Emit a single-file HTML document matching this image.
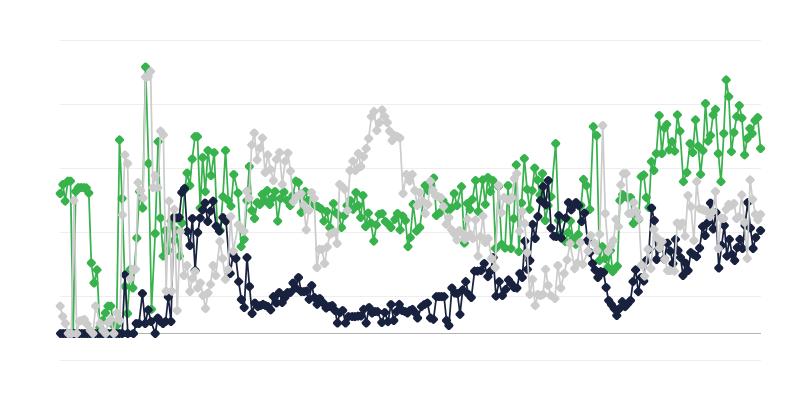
<!DOCTYPE html>
<html><head><meta charset="utf-8"><title>chart</title><style>html,body{margin:0;padding:0;background:#fff;font-family:"Liberation Sans",sans-serif}body{width:800px;height:400px;overflow:hidden}</style></head><body><svg width="800" height="400" viewBox="0 0 800 400" style="display:block"><rect x="60" y="40" width="701" height="1" fill="#eeeeee"/><rect x="60" y="104" width="701" height="1" fill="#eeeeee"/><rect x="60" y="168" width="701" height="1" fill="#eeeeee"/><rect x="60" y="232" width="701" height="1" fill="#eeeeee"/><rect x="60" y="296" width="701" height="1" fill="#eeeeee"/><rect x="60" y="360" width="701" height="1" fill="#eeeeee"/><rect x="60" y="333" width="701" height="1" fill="#b4b4b4"/><g><polyline points="60.2,193.5 62.9,184.5 65.2,201.1 67.9,181.1 70.5,181.1 73.2,333.5 75.7,191.5 78.3,187.7 81.0,187.7 83.7,187.7 86.3,187.8 88.8,193.0 91.3,263.0 94.0,283.0 97.0,269.9 99.8,327.5 102.7,320.5 105.4,313.0 108.0,306.1 110.8,306.1 113.7,325.5 116.6,325.5 119.5,139.9 122.1,198.5 125.0,286.5 127.5,313.5 130.3,269.2 132.8,288.0 136.8,238.0 139.6,191.5 142.6,208.0 145.6,67.0 148.6,163.5 151.5,309.2 155.2,233.5 158.1,141.8 160.5,218.0 163.2,256.1 165.4,230.5 168.2,250.5 171.1,221.1 173.9,240.5 176.6,230.5 179.5,256.1 182.0,223.0 184.7,189.5 187.1,173.0 189.8,185.5 192.2,159.0 195.0,136.8 197.5,136.8 200.2,208.0 202.7,157.5 205.3,191.8 208.0,150.5 211.0,175.5 214.2,152.8 217.3,226.5 220.2,230.5 222.9,196.8 225.5,150.5 228.3,200.5 231.0,206.1 233.8,174.5 238.0,193.0 241.1,246.8 244.2,239.2 246.9,200.5 249.3,166.5 251.8,210.5 254.5,218.5 257.2,202.5 259.8,204.5 262.1,194.2 264.5,200.5 267.2,190.5 269.8,204.5 272.5,198.0 275.0,191.5 277.7,221.1 280.6,198.5 284.0,192.0 287.1,200.5 290.2,205.5 292.9,195.5 295.8,181.1 298.4,182.5 301.2,212.5 305.2,191.5 308.0,200.5 310.8,200.5 315.2,205.5 317.8,206.5 320.8,208.5 323.9,221.1 326.9,211.5 329.8,227.5 333.4,203.5 336.2,213.0 338.8,215.5 341.5,227.5 344.2,215.5 347.0,205.5 350.2,200.5 353.1,209.2 355.9,192.5 358.2,205.5 360.7,217.5 363.0,195.5 365.6,226.5 368.3,213.0 370.9,223.0 373.8,241.1 376.4,224.9 379.1,214.2 382.2,213.5 385.4,221.5 388.6,224.5 391.0,227.5 394.9,219.2 397.5,213.5 400.1,229.9 402.8,216.1 405.4,220.5 408.0,246.8 410.3,237.5 413.1,204.2 416.5,231.1 419.8,227.5 425.2,185.5 428.0,190.5 430.9,185.5 433.7,178.0 436.4,215.5 440.2,212.5 443.0,200.5 446.0,205.5 448.8,210.5 451.3,208.0 454.2,193.5 457.0,205.5 461.5,186.8 464.4,243.0 467.3,203.5 470.0,209.2 472.4,199.2 475.6,180.5 478.4,211.5 482.7,179.9 485.3,204.2 487.9,177.5 490.3,191.8 492.9,180.5 495.5,248.5 498.5,186.5 501.7,244.2 505.0,248.0 508.1,185.5 511.0,248.5 513.8,218.5 516.3,164.9 518.9,251.8 521.6,203.0 524.3,158.5 527.1,189.2 529.7,209.2 532.2,190.5 534.7,168.0 537.4,179.9 540.0,194.9 542.5,173.5 545.2,220.5 548.1,205.5 551.0,196.8 555.7,143.5 558.6,220.5 561.5,233.5 565.4,241.8 568.0,232.5 570.5,221.1 573.0,238.5 575.8,244.2 578.4,234.2 581.0,205.5 583.5,179.2 586.3,185.5 589.9,209.2 593.3,126.8 596.6,135.5 599.5,260.5 602.3,246.8 605.2,258.5 607.8,267.5 610.4,250.5 612.7,271.8 615.1,268.5 617.4,266.1 619.9,200.5 622.6,194.5 625.3,196.5 628.0,198.0 630.6,197.5 633.3,223.5 636.0,212.5 638.6,219.5 641.2,176.8 643.8,174.9 646.3,197.5 648.9,207.5 651.4,161.8 653.9,170.5 656.3,153.5 659.2,115.5 661.9,153.5 664.5,128.0 666.8,124.2 669.2,149.9 672.0,141.8 674.7,151.1 677.4,114.9 680.0,131.1 683.4,181.8 686.8,172.5 690.0,143.5 692.7,152.5 695.5,119.9 698.2,146.1 700.6,174.2 703.0,150.5 705.5,103.5 708.1,141.1 710.5,135.5 713.1,114.9 715.5,109.2 718.3,153.5 721.0,181.8 723.8,133.5 726.2,79.9 728.8,96.8 731.4,151.8 734.0,132.5 736.7,116.8 739.3,105.5 741.9,118.0 744.6,154.9 747.2,138.5 749.9,128.5 752.2,133.5 755.0,120.5 757.7,117.5 760.6,148.5" fill="none" stroke="#37b24d" stroke-width="1.75" stroke-linejoin="round" stroke-linecap="round"/><path d="M60.2 191.0l2.5 2.5l-2.5 2.5l-2.5 -2.5zM62.9 182.0l2.5 2.5l-2.5 2.5l-2.5 -2.5zM65.2 198.6l2.5 2.5l-2.5 2.5l-2.5 -2.5zM67.9 178.6l2.5 2.5l-2.5 2.5l-2.5 -2.5zM70.5 178.6l2.5 2.5l-2.5 2.5l-2.5 -2.5zM73.2 331.0l2.5 2.5l-2.5 2.5l-2.5 -2.5zM75.7 189.0l2.5 2.5l-2.5 2.5l-2.5 -2.5zM78.3 185.2l2.5 2.5l-2.5 2.5l-2.5 -2.5zM81.0 185.2l2.5 2.5l-2.5 2.5l-2.5 -2.5zM83.7 185.2l2.5 2.5l-2.5 2.5l-2.5 -2.5zM86.3 185.3l2.5 2.5l-2.5 2.5l-2.5 -2.5zM88.8 190.5l2.5 2.5l-2.5 2.5l-2.5 -2.5zM91.3 260.5l2.5 2.5l-2.5 2.5l-2.5 -2.5zM94.0 280.5l2.5 2.5l-2.5 2.5l-2.5 -2.5zM97.0 267.4l2.5 2.5l-2.5 2.5l-2.5 -2.5zM99.8 325.0l2.5 2.5l-2.5 2.5l-2.5 -2.5zM102.7 318.0l2.5 2.5l-2.5 2.5l-2.5 -2.5zM105.4 310.5l2.5 2.5l-2.5 2.5l-2.5 -2.5zM108.0 303.6l2.5 2.5l-2.5 2.5l-2.5 -2.5zM110.8 303.6l2.5 2.5l-2.5 2.5l-2.5 -2.5zM113.7 323.0l2.5 2.5l-2.5 2.5l-2.5 -2.5zM116.6 323.0l2.5 2.5l-2.5 2.5l-2.5 -2.5zM119.5 137.4l2.5 2.5l-2.5 2.5l-2.5 -2.5zM122.1 196.0l2.5 2.5l-2.5 2.5l-2.5 -2.5zM125.0 284.0l2.5 2.5l-2.5 2.5l-2.5 -2.5zM127.5 311.0l2.5 2.5l-2.5 2.5l-2.5 -2.5zM130.3 266.8l2.5 2.5l-2.5 2.5l-2.5 -2.5zM132.8 285.5l2.5 2.5l-2.5 2.5l-2.5 -2.5zM136.8 235.5l2.5 2.5l-2.5 2.5l-2.5 -2.5zM139.6 189.0l2.5 2.5l-2.5 2.5l-2.5 -2.5zM142.6 205.5l2.5 2.5l-2.5 2.5l-2.5 -2.5zM145.6 64.5l2.5 2.5l-2.5 2.5l-2.5 -2.5zM148.6 161.0l2.5 2.5l-2.5 2.5l-2.5 -2.5zM151.5 306.8l2.5 2.5l-2.5 2.5l-2.5 -2.5zM155.2 231.0l2.5 2.5l-2.5 2.5l-2.5 -2.5zM158.1 139.2l2.5 2.5l-2.5 2.5l-2.5 -2.5zM160.5 215.5l2.5 2.5l-2.5 2.5l-2.5 -2.5zM163.2 253.6l2.5 2.5l-2.5 2.5l-2.5 -2.5zM165.4 228.0l2.5 2.5l-2.5 2.5l-2.5 -2.5zM168.2 248.0l2.5 2.5l-2.5 2.5l-2.5 -2.5zM171.1 218.6l2.5 2.5l-2.5 2.5l-2.5 -2.5zM173.9 238.0l2.5 2.5l-2.5 2.5l-2.5 -2.5zM176.6 228.0l2.5 2.5l-2.5 2.5l-2.5 -2.5zM179.5 253.6l2.5 2.5l-2.5 2.5l-2.5 -2.5zM182.0 220.5l2.5 2.5l-2.5 2.5l-2.5 -2.5zM184.7 187.0l2.5 2.5l-2.5 2.5l-2.5 -2.5zM187.1 170.5l2.5 2.5l-2.5 2.5l-2.5 -2.5zM189.8 183.0l2.5 2.5l-2.5 2.5l-2.5 -2.5zM192.2 156.5l2.5 2.5l-2.5 2.5l-2.5 -2.5zM195.0 134.2l2.5 2.5l-2.5 2.5l-2.5 -2.5zM197.5 134.2l2.5 2.5l-2.5 2.5l-2.5 -2.5zM200.2 205.5l2.5 2.5l-2.5 2.5l-2.5 -2.5zM202.7 155.0l2.5 2.5l-2.5 2.5l-2.5 -2.5zM205.3 189.2l2.5 2.5l-2.5 2.5l-2.5 -2.5zM208.0 148.0l2.5 2.5l-2.5 2.5l-2.5 -2.5zM211.0 173.0l2.5 2.5l-2.5 2.5l-2.5 -2.5zM214.2 150.2l2.5 2.5l-2.5 2.5l-2.5 -2.5zM217.3 224.0l2.5 2.5l-2.5 2.5l-2.5 -2.5zM220.2 228.0l2.5 2.5l-2.5 2.5l-2.5 -2.5zM222.9 194.2l2.5 2.5l-2.5 2.5l-2.5 -2.5zM225.5 148.0l2.5 2.5l-2.5 2.5l-2.5 -2.5zM228.3 198.0l2.5 2.5l-2.5 2.5l-2.5 -2.5zM231.0 203.6l2.5 2.5l-2.5 2.5l-2.5 -2.5zM233.8 172.0l2.5 2.5l-2.5 2.5l-2.5 -2.5zM238.0 190.5l2.5 2.5l-2.5 2.5l-2.5 -2.5zM241.1 244.2l2.5 2.5l-2.5 2.5l-2.5 -2.5zM244.2 236.8l2.5 2.5l-2.5 2.5l-2.5 -2.5zM246.9 198.0l2.5 2.5l-2.5 2.5l-2.5 -2.5zM249.3 164.0l2.5 2.5l-2.5 2.5l-2.5 -2.5zM251.8 208.0l2.5 2.5l-2.5 2.5l-2.5 -2.5zM254.5 216.0l2.5 2.5l-2.5 2.5l-2.5 -2.5zM257.2 200.0l2.5 2.5l-2.5 2.5l-2.5 -2.5zM259.8 202.0l2.5 2.5l-2.5 2.5l-2.5 -2.5zM262.1 191.8l2.5 2.5l-2.5 2.5l-2.5 -2.5zM264.5 198.0l2.5 2.5l-2.5 2.5l-2.5 -2.5zM267.2 188.0l2.5 2.5l-2.5 2.5l-2.5 -2.5zM269.8 202.0l2.5 2.5l-2.5 2.5l-2.5 -2.5zM272.5 195.5l2.5 2.5l-2.5 2.5l-2.5 -2.5zM275.0 189.0l2.5 2.5l-2.5 2.5l-2.5 -2.5zM277.7 218.6l2.5 2.5l-2.5 2.5l-2.5 -2.5zM280.6 196.0l2.5 2.5l-2.5 2.5l-2.5 -2.5zM284.0 189.5l2.5 2.5l-2.5 2.5l-2.5 -2.5zM287.1 198.0l2.5 2.5l-2.5 2.5l-2.5 -2.5zM290.2 203.0l2.5 2.5l-2.5 2.5l-2.5 -2.5zM292.9 193.0l2.5 2.5l-2.5 2.5l-2.5 -2.5zM295.8 178.6l2.5 2.5l-2.5 2.5l-2.5 -2.5zM298.4 180.0l2.5 2.5l-2.5 2.5l-2.5 -2.5zM301.2 210.0l2.5 2.5l-2.5 2.5l-2.5 -2.5zM305.2 189.0l2.5 2.5l-2.5 2.5l-2.5 -2.5zM308.0 198.0l2.5 2.5l-2.5 2.5l-2.5 -2.5zM310.8 198.0l2.5 2.5l-2.5 2.5l-2.5 -2.5zM315.2 203.0l2.5 2.5l-2.5 2.5l-2.5 -2.5zM317.8 204.0l2.5 2.5l-2.5 2.5l-2.5 -2.5zM320.8 206.0l2.5 2.5l-2.5 2.5l-2.5 -2.5zM323.9 218.6l2.5 2.5l-2.5 2.5l-2.5 -2.5zM326.9 209.0l2.5 2.5l-2.5 2.5l-2.5 -2.5zM329.8 225.0l2.5 2.5l-2.5 2.5l-2.5 -2.5zM333.4 201.0l2.5 2.5l-2.5 2.5l-2.5 -2.5zM336.2 210.5l2.5 2.5l-2.5 2.5l-2.5 -2.5zM338.8 213.0l2.5 2.5l-2.5 2.5l-2.5 -2.5zM341.5 225.0l2.5 2.5l-2.5 2.5l-2.5 -2.5zM344.2 213.0l2.5 2.5l-2.5 2.5l-2.5 -2.5zM347.0 203.0l2.5 2.5l-2.5 2.5l-2.5 -2.5zM350.2 198.0l2.5 2.5l-2.5 2.5l-2.5 -2.5zM353.1 206.8l2.5 2.5l-2.5 2.5l-2.5 -2.5zM355.9 190.0l2.5 2.5l-2.5 2.5l-2.5 -2.5zM358.2 203.0l2.5 2.5l-2.5 2.5l-2.5 -2.5zM360.7 215.0l2.5 2.5l-2.5 2.5l-2.5 -2.5zM363.0 193.0l2.5 2.5l-2.5 2.5l-2.5 -2.5zM365.6 224.0l2.5 2.5l-2.5 2.5l-2.5 -2.5zM368.3 210.5l2.5 2.5l-2.5 2.5l-2.5 -2.5zM370.9 220.5l2.5 2.5l-2.5 2.5l-2.5 -2.5zM373.8 238.6l2.5 2.5l-2.5 2.5l-2.5 -2.5zM376.4 222.4l2.5 2.5l-2.5 2.5l-2.5 -2.5zM379.1 211.8l2.5 2.5l-2.5 2.5l-2.5 -2.5zM382.2 211.0l2.5 2.5l-2.5 2.5l-2.5 -2.5zM385.4 219.0l2.5 2.5l-2.5 2.5l-2.5 -2.5zM388.6 222.0l2.5 2.5l-2.5 2.5l-2.5 -2.5zM391.0 225.0l2.5 2.5l-2.5 2.5l-2.5 -2.5zM394.9 216.8l2.5 2.5l-2.5 2.5l-2.5 -2.5zM397.5 211.0l2.5 2.5l-2.5 2.5l-2.5 -2.5zM400.1 227.4l2.5 2.5l-2.5 2.5l-2.5 -2.5zM402.8 213.6l2.5 2.5l-2.5 2.5l-2.5 -2.5zM405.4 218.0l2.5 2.5l-2.5 2.5l-2.5 -2.5zM408.0 244.2l2.5 2.5l-2.5 2.5l-2.5 -2.5zM410.3 235.0l2.5 2.5l-2.5 2.5l-2.5 -2.5zM413.1 201.8l2.5 2.5l-2.5 2.5l-2.5 -2.5zM416.5 228.6l2.5 2.5l-2.5 2.5l-2.5 -2.5zM419.8 225.0l2.5 2.5l-2.5 2.5l-2.5 -2.5zM425.2 183.0l2.5 2.5l-2.5 2.5l-2.5 -2.5zM428.0 188.0l2.5 2.5l-2.5 2.5l-2.5 -2.5zM430.9 183.0l2.5 2.5l-2.5 2.5l-2.5 -2.5zM433.7 175.5l2.5 2.5l-2.5 2.5l-2.5 -2.5zM436.4 213.0l2.5 2.5l-2.5 2.5l-2.5 -2.5zM440.2 210.0l2.5 2.5l-2.5 2.5l-2.5 -2.5zM443.0 198.0l2.5 2.5l-2.5 2.5l-2.5 -2.5zM446.0 203.0l2.5 2.5l-2.5 2.5l-2.5 -2.5zM448.8 208.0l2.5 2.5l-2.5 2.5l-2.5 -2.5zM451.3 205.5l2.5 2.5l-2.5 2.5l-2.5 -2.5zM454.2 191.0l2.5 2.5l-2.5 2.5l-2.5 -2.5zM457.0 203.0l2.5 2.5l-2.5 2.5l-2.5 -2.5zM461.5 184.2l2.5 2.5l-2.5 2.5l-2.5 -2.5zM464.4 240.5l2.5 2.5l-2.5 2.5l-2.5 -2.5zM467.3 201.0l2.5 2.5l-2.5 2.5l-2.5 -2.5zM470.0 206.8l2.5 2.5l-2.5 2.5l-2.5 -2.5zM472.4 196.8l2.5 2.5l-2.5 2.5l-2.5 -2.5zM475.6 178.0l2.5 2.5l-2.5 2.5l-2.5 -2.5zM478.4 209.0l2.5 2.5l-2.5 2.5l-2.5 -2.5zM482.7 177.4l2.5 2.5l-2.5 2.5l-2.5 -2.5zM485.3 201.8l2.5 2.5l-2.5 2.5l-2.5 -2.5zM487.9 175.0l2.5 2.5l-2.5 2.5l-2.5 -2.5zM490.3 189.2l2.5 2.5l-2.5 2.5l-2.5 -2.5zM492.9 178.0l2.5 2.5l-2.5 2.5l-2.5 -2.5zM495.5 246.0l2.5 2.5l-2.5 2.5l-2.5 -2.5zM498.5 184.0l2.5 2.5l-2.5 2.5l-2.5 -2.5zM501.7 241.8l2.5 2.5l-2.5 2.5l-2.5 -2.5zM505.0 245.5l2.5 2.5l-2.5 2.5l-2.5 -2.5zM508.1 183.0l2.5 2.5l-2.5 2.5l-2.5 -2.5zM511.0 246.0l2.5 2.5l-2.5 2.5l-2.5 -2.5zM513.8 216.0l2.5 2.5l-2.5 2.5l-2.5 -2.5zM516.3 162.4l2.5 2.5l-2.5 2.5l-2.5 -2.5zM518.9 249.2l2.5 2.5l-2.5 2.5l-2.5 -2.5zM521.6 200.5l2.5 2.5l-2.5 2.5l-2.5 -2.5zM524.3 156.0l2.5 2.5l-2.5 2.5l-2.5 -2.5zM527.1 186.8l2.5 2.5l-2.5 2.5l-2.5 -2.5zM529.7 206.8l2.5 2.5l-2.5 2.5l-2.5 -2.5zM532.2 188.0l2.5 2.5l-2.5 2.5l-2.5 -2.5zM534.7 165.5l2.5 2.5l-2.5 2.5l-2.5 -2.5zM537.4 177.4l2.5 2.5l-2.5 2.5l-2.5 -2.5zM540.0 192.4l2.5 2.5l-2.5 2.5l-2.5 -2.5zM542.5 171.0l2.5 2.5l-2.5 2.5l-2.5 -2.5zM545.2 218.0l2.5 2.5l-2.5 2.5l-2.5 -2.5zM548.1 203.0l2.5 2.5l-2.5 2.5l-2.5 -2.5zM551.0 194.2l2.5 2.5l-2.5 2.5l-2.5 -2.5zM555.7 141.0l2.5 2.5l-2.5 2.5l-2.5 -2.5zM558.6 218.0l2.5 2.5l-2.5 2.5l-2.5 -2.5zM561.5 231.0l2.5 2.5l-2.5 2.5l-2.5 -2.5zM565.4 239.2l2.5 2.5l-2.5 2.5l-2.5 -2.5zM568.0 230.0l2.5 2.5l-2.5 2.5l-2.5 -2.5zM570.5 218.6l2.5 2.5l-2.5 2.5l-2.5 -2.5zM573.0 236.0l2.5 2.5l-2.5 2.5l-2.5 -2.5zM575.8 241.8l2.5 2.5l-2.5 2.5l-2.5 -2.5zM578.4 231.8l2.5 2.5l-2.5 2.5l-2.5 -2.5zM581.0 203.0l2.5 2.5l-2.5 2.5l-2.5 -2.5zM583.5 176.8l2.5 2.5l-2.5 2.5l-2.5 -2.5zM586.3 183.0l2.5 2.5l-2.5 2.5l-2.5 -2.5zM589.9 206.8l2.5 2.5l-2.5 2.5l-2.5 -2.5zM593.3 124.2l2.5 2.5l-2.5 2.5l-2.5 -2.5zM596.6 133.0l2.5 2.5l-2.5 2.5l-2.5 -2.5zM599.5 258.0l2.5 2.5l-2.5 2.5l-2.5 -2.5zM602.3 244.2l2.5 2.5l-2.5 2.5l-2.5 -2.5zM605.2 256.0l2.5 2.5l-2.5 2.5l-2.5 -2.5zM607.8 265.0l2.5 2.5l-2.5 2.5l-2.5 -2.5zM610.4 248.0l2.5 2.5l-2.5 2.5l-2.5 -2.5zM612.7 269.2l2.5 2.5l-2.5 2.5l-2.5 -2.5zM615.1 266.0l2.5 2.5l-2.5 2.5l-2.5 -2.5zM617.4 263.6l2.5 2.5l-2.5 2.5l-2.5 -2.5zM619.9 198.0l2.5 2.5l-2.5 2.5l-2.5 -2.5zM622.6 192.0l2.5 2.5l-2.5 2.5l-2.5 -2.5zM625.3 194.0l2.5 2.5l-2.5 2.5l-2.5 -2.5zM628.0 195.5l2.5 2.5l-2.5 2.5l-2.5 -2.5zM630.6 195.0l2.5 2.5l-2.5 2.5l-2.5 -2.5zM633.3 221.0l2.5 2.5l-2.5 2.5l-2.5 -2.5zM636.0 210.0l2.5 2.5l-2.5 2.5l-2.5 -2.5zM638.6 217.0l2.5 2.5l-2.5 2.5l-2.5 -2.5zM641.2 174.2l2.5 2.5l-2.5 2.5l-2.5 -2.5zM643.8 172.4l2.5 2.5l-2.5 2.5l-2.5 -2.5zM646.3 195.0l2.5 2.5l-2.5 2.5l-2.5 -2.5zM648.9 205.0l2.5 2.5l-2.5 2.5l-2.5 -2.5zM651.4 159.2l2.5 2.5l-2.5 2.5l-2.5 -2.5zM653.9 168.0l2.5 2.5l-2.5 2.5l-2.5 -2.5zM656.3 151.0l2.5 2.5l-2.5 2.5l-2.5 -2.5zM659.2 113.0l2.5 2.5l-2.5 2.5l-2.5 -2.5zM661.9 151.0l2.5 2.5l-2.5 2.5l-2.5 -2.5zM664.5 125.5l2.5 2.5l-2.5 2.5l-2.5 -2.5zM666.8 121.8l2.5 2.5l-2.5 2.5l-2.5 -2.5zM669.2 147.4l2.5 2.5l-2.5 2.5l-2.5 -2.5zM672.0 139.2l2.5 2.5l-2.5 2.5l-2.5 -2.5zM674.7 148.6l2.5 2.5l-2.5 2.5l-2.5 -2.5zM677.4 112.4l2.5 2.5l-2.5 2.5l-2.5 -2.5zM680.0 128.6l2.5 2.5l-2.5 2.5l-2.5 -2.5zM683.4 179.2l2.5 2.5l-2.5 2.5l-2.5 -2.5zM686.8 170.0l2.5 2.5l-2.5 2.5l-2.5 -2.5zM690.0 141.0l2.5 2.5l-2.5 2.5l-2.5 -2.5zM692.7 150.0l2.5 2.5l-2.5 2.5l-2.5 -2.5zM695.5 117.4l2.5 2.5l-2.5 2.5l-2.5 -2.5zM698.2 143.6l2.5 2.5l-2.5 2.5l-2.5 -2.5zM700.6 171.8l2.5 2.5l-2.5 2.5l-2.5 -2.5zM703.0 148.0l2.5 2.5l-2.5 2.5l-2.5 -2.5zM705.5 101.0l2.5 2.5l-2.5 2.5l-2.5 -2.5zM708.1 138.6l2.5 2.5l-2.5 2.5l-2.5 -2.5zM710.5 133.0l2.5 2.5l-2.5 2.5l-2.5 -2.5zM713.1 112.4l2.5 2.5l-2.5 2.5l-2.5 -2.5zM715.5 106.8l2.5 2.5l-2.5 2.5l-2.5 -2.5zM718.3 151.0l2.5 2.5l-2.5 2.5l-2.5 -2.5zM721.0 179.2l2.5 2.5l-2.5 2.5l-2.5 -2.5zM723.8 131.0l2.5 2.5l-2.5 2.5l-2.5 -2.5zM726.2 77.4l2.5 2.5l-2.5 2.5l-2.5 -2.5zM728.8 94.2l2.5 2.5l-2.5 2.5l-2.5 -2.5zM731.4 149.2l2.5 2.5l-2.5 2.5l-2.5 -2.5zM734.0 130.0l2.5 2.5l-2.5 2.5l-2.5 -2.5zM736.7 114.2l2.5 2.5l-2.5 2.5l-2.5 -2.5zM739.3 103.0l2.5 2.5l-2.5 2.5l-2.5 -2.5zM741.9 115.5l2.5 2.5l-2.5 2.5l-2.5 -2.5zM744.6 152.4l2.5 2.5l-2.5 2.5l-2.5 -2.5zM747.2 136.0l2.5 2.5l-2.5 2.5l-2.5 -2.5zM749.9 126.0l2.5 2.5l-2.5 2.5l-2.5 -2.5zM752.2 131.0l2.5 2.5l-2.5 2.5l-2.5 -2.5zM755.0 118.0l2.5 2.5l-2.5 2.5l-2.5 -2.5zM757.7 115.0l2.5 2.5l-2.5 2.5l-2.5 -2.5zM760.6 146.0l2.5 2.5l-2.5 2.5l-2.5 -2.5z" fill="#37b24d" stroke="#37b24d" stroke-width="4" stroke-linejoin="round"/></g><g><polyline points="60.6,333.5 63.3,333.5 65.8,333.5 68.5,333.5 71.1,333.5 73.8,333.5 76.5,333.5 79.1,333.5 81.8,333.5 84.5,333.5 87.1,333.5 89.8,333.5 92.4,333.5 95.1,333.5 97.8,333.5 100.4,333.5 103.1,333.5 105.7,333.5 108.4,333.5 111.1,333.5 113.7,333.5 116.4,333.5 119.3,333.5 122.2,333.5 125.0,274.9 127.8,333.5 133.5,333.5 136.2,323.5 139.0,323.5 142.4,293.5 145.2,323.5 148.2,309.9 151.1,321.5 155.2,333.5 157.8,318.0 160.5,321.5 163.0,323.5 165.6,321.5 168.3,297.0 171.0,321.5 173.8,217.5 176.5,218.0 179.2,217.5 181.8,192.5 184.5,188.5 187.2,231.5 189.9,245.5 192.4,218.5 195.1,270.5 197.7,232.5 200.2,218.0 202.6,209.9 205.1,203.0 207.8,221.5 210.5,211.1 213.1,201.1 216.1,226.1 219.4,231.1 222.9,217.5 226.0,221.1 230.2,273.5 233.1,254.5 235.9,258.5 238.7,281.8 241.4,299.5 244.2,307.5 247.0,257.5 249.5,286.5 252.1,313.5 254.9,303.0 257.8,306.8 260.5,305.5 263.0,304.2 265.5,305.5 268.1,306.8 270.7,309.9 273.4,296.8 276.4,303.0 279.3,292.5 282.2,302.5 284.9,297.5 287.6,292.5 290.3,292.5 293.0,283.0 295.7,288.0 298.5,277.5 301.3,291.8 304.0,291.5 306.5,291.1 309.1,299.2 311.7,285.5 314.4,297.5 317.1,304.2 319.8,298.5 323.3,303.0 326.1,308.0 329.2,306.5 332.2,305.5 335.0,310.5 337.5,323.0 340.0,312.5 342.7,310.5 345.6,323.0 348.5,316.8 352.2,316.5 355.0,316.8 358.0,316.1 360.9,316.0 363.6,309.2 366.2,323.0 369.1,307.5 372.1,313.0 375.0,311.5 377.6,311.8 381.8,322.5 384.8,312.5 388.0,321.8 391.0,304.5 393.8,320.5 396.5,311.8 399.3,304.2 402.2,310.5 405.0,311.5 407.5,313.0 410.0,310.5 412.5,309.2 415.0,312.5 417.6,318.0 421.5,306.8 424.4,304.5 427.4,303.0 430.5,318.0 433.5,319.2 436.4,296.8 439.0,296.5 441.6,296.8 444.1,296.8 446.5,320.5 448.9,325.5 451.9,288.0 454.8,293.0 457.5,293.5 460.0,314.2 462.7,289.9 465.7,281.8 468.6,294.2 471.3,297.5 474.6,271.1 477.6,271.1 481.1,270.5 484.2,263.5 487.9,276.8 490.5,271.1 493.2,257.5 496.0,296.1 499.2,281.8 502.4,295.5 505.7,289.2 508.5,279.9 511.1,283.5 514.1,287.5 516.9,288.0 519.8,273.5 522.3,277.5 524.9,241.1 527.4,269.2 529.9,260.5 532.6,224.2 535.2,238.5 537.9,216.5 540.5,200.5 543.1,186.8 545.7,204.9 548.3,180.5 551.0,228.0 553.7,236.1 556.2,236.5 558.8,215.5 561.3,238.0 565.8,218.0 568.5,202.5 571.2,209.9 573.5,205.5 576.0,202.5 578.7,205.5 581.7,221.8 584.6,213.0 587.5,240.5 590.0,252.5 592.5,263.5 595.1,269.9 597.9,277.5 600.8,271.8 603.5,272.5 606.1,287.5 608.7,300.5 611.4,304.5 614.2,308.5 616.8,315.5 619.6,308.5 622.3,301.8 625.2,306.8 627.9,303.5 630.5,300.5 633.0,281.8 635.6,269.9 638.3,291.8 641.1,277.5 643.8,281.1 646.3,260.5 649.0,249.5 651.6,208.0 654.3,220.5 656.6,259.5 659.0,248.5 661.6,242.5 664.4,259.0 667.3,243.0 670.2,251.1 672.9,263.5 675.5,239.2 678.0,250.5 680.5,257.5 683.0,275.5 685.5,263.0 688.1,270.5 690.8,252.5 693.5,254.5 696.6,256.8 699.6,248.0 702.6,226.8 705.2,235.5 707.9,222.5 710.5,203.0 713.2,229.0 716.0,212.5 718.8,268.0 721.6,245.5 724.3,225.5 726.9,256.1 729.4,239.2 732.0,254.2 734.7,260.5 737.3,247.5 739.9,239.2 742.5,248.5 745.0,225.5 747.7,202.5 750.4,228.0 753.1,248.5 755.7,237.5 760.6,230.5" fill="none" stroke="#18213e" stroke-width="1.75" stroke-linejoin="round" stroke-linecap="round"/><path d="M60.6 331.0l2.5 2.5l-2.5 2.5l-2.5 -2.5zM63.3 331.0l2.5 2.5l-2.5 2.5l-2.5 -2.5zM65.8 331.0l2.5 2.5l-2.5 2.5l-2.5 -2.5zM68.5 331.0l2.5 2.5l-2.5 2.5l-2.5 -2.5zM71.1 331.0l2.5 2.5l-2.5 2.5l-2.5 -2.5zM73.8 331.0l2.5 2.5l-2.5 2.5l-2.5 -2.5zM76.5 331.0l2.5 2.5l-2.5 2.5l-2.5 -2.5zM79.1 331.0l2.5 2.5l-2.5 2.5l-2.5 -2.5zM81.8 331.0l2.5 2.5l-2.5 2.5l-2.5 -2.5zM84.5 331.0l2.5 2.5l-2.5 2.5l-2.5 -2.5zM87.1 331.0l2.5 2.5l-2.5 2.5l-2.5 -2.5zM89.8 331.0l2.5 2.5l-2.5 2.5l-2.5 -2.5zM92.4 331.0l2.5 2.5l-2.5 2.5l-2.5 -2.5zM95.1 331.0l2.5 2.5l-2.5 2.5l-2.5 -2.5zM97.8 331.0l2.5 2.5l-2.5 2.5l-2.5 -2.5zM100.4 331.0l2.5 2.5l-2.5 2.5l-2.5 -2.5zM103.1 331.0l2.5 2.5l-2.5 2.5l-2.5 -2.5zM105.7 331.0l2.5 2.5l-2.5 2.5l-2.5 -2.5zM108.4 331.0l2.5 2.5l-2.5 2.5l-2.5 -2.5zM111.1 331.0l2.5 2.5l-2.5 2.5l-2.5 -2.5zM113.7 331.0l2.5 2.5l-2.5 2.5l-2.5 -2.5zM116.4 331.0l2.5 2.5l-2.5 2.5l-2.5 -2.5zM119.3 331.0l2.5 2.5l-2.5 2.5l-2.5 -2.5zM122.2 331.0l2.5 2.5l-2.5 2.5l-2.5 -2.5zM125.0 272.4l2.5 2.5l-2.5 2.5l-2.5 -2.5zM127.8 331.0l2.5 2.5l-2.5 2.5l-2.5 -2.5zM133.5 331.0l2.5 2.5l-2.5 2.5l-2.5 -2.5zM136.2 321.0l2.5 2.5l-2.5 2.5l-2.5 -2.5zM139.0 321.0l2.5 2.5l-2.5 2.5l-2.5 -2.5zM142.4 291.0l2.5 2.5l-2.5 2.5l-2.5 -2.5zM145.2 321.0l2.5 2.5l-2.5 2.5l-2.5 -2.5zM148.2 307.4l2.5 2.5l-2.5 2.5l-2.5 -2.5zM151.1 319.0l2.5 2.5l-2.5 2.5l-2.5 -2.5zM155.2 331.0l2.5 2.5l-2.5 2.5l-2.5 -2.5zM157.8 315.5l2.5 2.5l-2.5 2.5l-2.5 -2.5zM160.5 319.0l2.5 2.5l-2.5 2.5l-2.5 -2.5zM163.0 321.0l2.5 2.5l-2.5 2.5l-2.5 -2.5zM165.6 319.0l2.5 2.5l-2.5 2.5l-2.5 -2.5zM168.3 294.5l2.5 2.5l-2.5 2.5l-2.5 -2.5zM171.0 319.0l2.5 2.5l-2.5 2.5l-2.5 -2.5zM173.8 215.0l2.5 2.5l-2.5 2.5l-2.5 -2.5zM176.5 215.5l2.5 2.5l-2.5 2.5l-2.5 -2.5zM179.2 215.0l2.5 2.5l-2.5 2.5l-2.5 -2.5zM181.8 190.0l2.5 2.5l-2.5 2.5l-2.5 -2.5zM184.5 186.0l2.5 2.5l-2.5 2.5l-2.5 -2.5zM187.2 229.0l2.5 2.5l-2.5 2.5l-2.5 -2.5zM189.9 243.0l2.5 2.5l-2.5 2.5l-2.5 -2.5zM192.4 216.0l2.5 2.5l-2.5 2.5l-2.5 -2.5zM195.1 268.0l2.5 2.5l-2.5 2.5l-2.5 -2.5zM197.7 230.0l2.5 2.5l-2.5 2.5l-2.5 -2.5zM200.2 215.5l2.5 2.5l-2.5 2.5l-2.5 -2.5zM202.6 207.4l2.5 2.5l-2.5 2.5l-2.5 -2.5zM205.1 200.5l2.5 2.5l-2.5 2.5l-2.5 -2.5zM207.8 219.0l2.5 2.5l-2.5 2.5l-2.5 -2.5zM210.5 208.6l2.5 2.5l-2.5 2.5l-2.5 -2.5zM213.1 198.6l2.5 2.5l-2.5 2.5l-2.5 -2.5zM216.1 223.6l2.5 2.5l-2.5 2.5l-2.5 -2.5zM219.4 228.6l2.5 2.5l-2.5 2.5l-2.5 -2.5zM222.9 215.0l2.5 2.5l-2.5 2.5l-2.5 -2.5zM226.0 218.6l2.5 2.5l-2.5 2.5l-2.5 -2.5zM230.2 271.0l2.5 2.5l-2.5 2.5l-2.5 -2.5zM233.1 252.0l2.5 2.5l-2.5 2.5l-2.5 -2.5zM235.9 256.0l2.5 2.5l-2.5 2.5l-2.5 -2.5zM238.7 279.2l2.5 2.5l-2.5 2.5l-2.5 -2.5zM241.4 297.0l2.5 2.5l-2.5 2.5l-2.5 -2.5zM244.2 305.0l2.5 2.5l-2.5 2.5l-2.5 -2.5zM247.0 255.0l2.5 2.5l-2.5 2.5l-2.5 -2.5zM249.5 284.0l2.5 2.5l-2.5 2.5l-2.5 -2.5zM252.1 311.0l2.5 2.5l-2.5 2.5l-2.5 -2.5zM254.9 300.5l2.5 2.5l-2.5 2.5l-2.5 -2.5zM257.8 304.2l2.5 2.5l-2.5 2.5l-2.5 -2.5zM260.5 303.0l2.5 2.5l-2.5 2.5l-2.5 -2.5zM263.0 301.8l2.5 2.5l-2.5 2.5l-2.5 -2.5zM265.5 303.0l2.5 2.5l-2.5 2.5l-2.5 -2.5zM268.1 304.2l2.5 2.5l-2.5 2.5l-2.5 -2.5zM270.7 307.4l2.5 2.5l-2.5 2.5l-2.5 -2.5zM273.4 294.2l2.5 2.5l-2.5 2.5l-2.5 -2.5zM276.4 300.5l2.5 2.5l-2.5 2.5l-2.5 -2.5zM279.3 290.0l2.5 2.5l-2.5 2.5l-2.5 -2.5zM282.2 300.0l2.5 2.5l-2.5 2.5l-2.5 -2.5zM284.9 295.0l2.5 2.5l-2.5 2.5l-2.5 -2.5zM287.6 290.0l2.5 2.5l-2.5 2.5l-2.5 -2.5zM290.3 290.0l2.5 2.5l-2.5 2.5l-2.5 -2.5zM293.0 280.5l2.5 2.5l-2.5 2.5l-2.5 -2.5zM295.7 285.5l2.5 2.5l-2.5 2.5l-2.5 -2.5zM298.5 275.0l2.5 2.5l-2.5 2.5l-2.5 -2.5zM301.3 289.2l2.5 2.5l-2.5 2.5l-2.5 -2.5zM304.0 289.0l2.5 2.5l-2.5 2.5l-2.5 -2.5zM306.5 288.6l2.5 2.5l-2.5 2.5l-2.5 -2.5zM309.1 296.8l2.5 2.5l-2.5 2.5l-2.5 -2.5zM311.7 283.0l2.5 2.5l-2.5 2.5l-2.5 -2.5zM314.4 295.0l2.5 2.5l-2.5 2.5l-2.5 -2.5zM317.1 301.8l2.5 2.5l-2.5 2.5l-2.5 -2.5zM319.8 296.0l2.5 2.5l-2.5 2.5l-2.5 -2.5zM323.3 300.5l2.5 2.5l-2.5 2.5l-2.5 -2.5zM326.1 305.5l2.5 2.5l-2.5 2.5l-2.5 -2.5zM329.2 304.0l2.5 2.5l-2.5 2.5l-2.5 -2.5zM332.2 303.0l2.5 2.5l-2.5 2.5l-2.5 -2.5zM335.0 308.0l2.5 2.5l-2.5 2.5l-2.5 -2.5zM337.5 320.5l2.5 2.5l-2.5 2.5l-2.5 -2.5zM340.0 310.0l2.5 2.5l-2.5 2.5l-2.5 -2.5zM342.7 308.0l2.5 2.5l-2.5 2.5l-2.5 -2.5zM345.6 320.5l2.5 2.5l-2.5 2.5l-2.5 -2.5zM348.5 314.2l2.5 2.5l-2.5 2.5l-2.5 -2.5zM352.2 314.0l2.5 2.5l-2.5 2.5l-2.5 -2.5zM355.0 314.2l2.5 2.5l-2.5 2.5l-2.5 -2.5zM358.0 313.6l2.5 2.5l-2.5 2.5l-2.5 -2.5zM360.9 313.5l2.5 2.5l-2.5 2.5l-2.5 -2.5zM363.6 306.8l2.5 2.5l-2.5 2.5l-2.5 -2.5zM366.2 320.5l2.5 2.5l-2.5 2.5l-2.5 -2.5zM369.1 305.0l2.5 2.5l-2.5 2.5l-2.5 -2.5zM372.1 310.5l2.5 2.5l-2.5 2.5l-2.5 -2.5zM375.0 309.0l2.5 2.5l-2.5 2.5l-2.5 -2.5zM377.6 309.2l2.5 2.5l-2.5 2.5l-2.5 -2.5zM381.8 320.0l2.5 2.5l-2.5 2.5l-2.5 -2.5zM384.8 310.0l2.5 2.5l-2.5 2.5l-2.5 -2.5zM388.0 319.2l2.5 2.5l-2.5 2.5l-2.5 -2.5zM391.0 302.0l2.5 2.5l-2.5 2.5l-2.5 -2.5zM393.8 318.0l2.5 2.5l-2.5 2.5l-2.5 -2.5zM396.5 309.2l2.5 2.5l-2.5 2.5l-2.5 -2.5zM399.3 301.8l2.5 2.5l-2.5 2.5l-2.5 -2.5zM402.2 308.0l2.5 2.5l-2.5 2.5l-2.5 -2.5zM405.0 309.0l2.5 2.5l-2.5 2.5l-2.5 -2.5zM407.5 310.5l2.5 2.5l-2.5 2.5l-2.5 -2.5zM410.0 308.0l2.5 2.5l-2.5 2.5l-2.5 -2.5zM412.5 306.8l2.5 2.5l-2.5 2.5l-2.5 -2.5zM415.0 310.0l2.5 2.5l-2.5 2.5l-2.5 -2.5zM417.6 315.5l2.5 2.5l-2.5 2.5l-2.5 -2.5zM421.5 304.2l2.5 2.5l-2.5 2.5l-2.5 -2.5zM424.4 302.0l2.5 2.5l-2.5 2.5l-2.5 -2.5zM427.4 300.5l2.5 2.5l-2.5 2.5l-2.5 -2.5zM430.5 315.5l2.5 2.5l-2.5 2.5l-2.5 -2.5zM433.5 316.8l2.5 2.5l-2.5 2.5l-2.5 -2.5zM436.4 294.2l2.5 2.5l-2.5 2.5l-2.5 -2.5zM439.0 294.0l2.5 2.5l-2.5 2.5l-2.5 -2.5zM441.6 294.2l2.5 2.5l-2.5 2.5l-2.5 -2.5zM444.1 294.2l2.5 2.5l-2.5 2.5l-2.5 -2.5zM446.5 318.0l2.5 2.5l-2.5 2.5l-2.5 -2.5zM448.9 323.0l2.5 2.5l-2.5 2.5l-2.5 -2.5zM451.9 285.5l2.5 2.5l-2.5 2.5l-2.5 -2.5zM454.8 290.5l2.5 2.5l-2.5 2.5l-2.5 -2.5zM457.5 291.0l2.5 2.5l-2.5 2.5l-2.5 -2.5zM460.0 311.8l2.5 2.5l-2.5 2.5l-2.5 -2.5zM462.7 287.4l2.5 2.5l-2.5 2.5l-2.5 -2.5zM465.7 279.2l2.5 2.5l-2.5 2.5l-2.5 -2.5zM468.6 291.8l2.5 2.5l-2.5 2.5l-2.5 -2.5zM471.3 295.0l2.5 2.5l-2.5 2.5l-2.5 -2.5zM474.6 268.6l2.5 2.5l-2.5 2.5l-2.5 -2.5zM477.6 268.6l2.5 2.5l-2.5 2.5l-2.5 -2.5zM481.1 268.0l2.5 2.5l-2.5 2.5l-2.5 -2.5zM484.2 261.0l2.5 2.5l-2.5 2.5l-2.5 -2.5zM487.9 274.2l2.5 2.5l-2.5 2.5l-2.5 -2.5zM490.5 268.6l2.5 2.5l-2.5 2.5l-2.5 -2.5zM493.2 255.0l2.5 2.5l-2.5 2.5l-2.5 -2.5zM496.0 293.6l2.5 2.5l-2.5 2.5l-2.5 -2.5zM499.2 279.2l2.5 2.5l-2.5 2.5l-2.5 -2.5zM502.4 293.0l2.5 2.5l-2.5 2.5l-2.5 -2.5zM505.7 286.8l2.5 2.5l-2.5 2.5l-2.5 -2.5zM508.5 277.4l2.5 2.5l-2.5 2.5l-2.5 -2.5zM511.1 281.0l2.5 2.5l-2.5 2.5l-2.5 -2.5zM514.1 285.0l2.5 2.5l-2.5 2.5l-2.5 -2.5zM516.9 285.5l2.5 2.5l-2.5 2.5l-2.5 -2.5zM519.8 271.0l2.5 2.5l-2.5 2.5l-2.5 -2.5zM522.3 275.0l2.5 2.5l-2.5 2.5l-2.5 -2.5zM524.9 238.6l2.5 2.5l-2.5 2.5l-2.5 -2.5zM527.4 266.8l2.5 2.5l-2.5 2.5l-2.5 -2.5zM529.9 258.0l2.5 2.5l-2.5 2.5l-2.5 -2.5zM532.6 221.8l2.5 2.5l-2.5 2.5l-2.5 -2.5zM535.2 236.0l2.5 2.5l-2.5 2.5l-2.5 -2.5zM537.9 214.0l2.5 2.5l-2.5 2.5l-2.5 -2.5zM540.5 198.0l2.5 2.5l-2.5 2.5l-2.5 -2.5zM543.1 184.2l2.5 2.5l-2.5 2.5l-2.5 -2.5zM545.7 202.4l2.5 2.5l-2.5 2.5l-2.5 -2.5zM548.3 178.0l2.5 2.5l-2.5 2.5l-2.5 -2.5zM551.0 225.5l2.5 2.5l-2.5 2.5l-2.5 -2.5zM553.7 233.6l2.5 2.5l-2.5 2.5l-2.5 -2.5zM556.2 234.0l2.5 2.5l-2.5 2.5l-2.5 -2.5zM558.8 213.0l2.5 2.5l-2.5 2.5l-2.5 -2.5zM561.3 235.5l2.5 2.5l-2.5 2.5l-2.5 -2.5zM565.8 215.5l2.5 2.5l-2.5 2.5l-2.5 -2.5zM568.5 200.0l2.5 2.5l-2.5 2.5l-2.5 -2.5zM571.2 207.4l2.5 2.5l-2.5 2.5l-2.5 -2.5zM573.5 203.0l2.5 2.5l-2.5 2.5l-2.5 -2.5zM576.0 200.0l2.5 2.5l-2.5 2.5l-2.5 -2.5zM578.7 203.0l2.5 2.5l-2.5 2.5l-2.5 -2.5zM581.7 219.2l2.5 2.5l-2.5 2.5l-2.5 -2.5zM584.6 210.5l2.5 2.5l-2.5 2.5l-2.5 -2.5zM587.5 238.0l2.5 2.5l-2.5 2.5l-2.5 -2.5zM590.0 250.0l2.5 2.5l-2.5 2.5l-2.5 -2.5zM592.5 261.0l2.5 2.5l-2.5 2.5l-2.5 -2.5zM595.1 267.4l2.5 2.5l-2.5 2.5l-2.5 -2.5zM597.9 275.0l2.5 2.5l-2.5 2.5l-2.5 -2.5zM600.8 269.2l2.5 2.5l-2.5 2.5l-2.5 -2.5zM603.5 270.0l2.5 2.5l-2.5 2.5l-2.5 -2.5zM606.1 285.0l2.5 2.5l-2.5 2.5l-2.5 -2.5zM608.7 298.0l2.5 2.5l-2.5 2.5l-2.5 -2.5zM611.4 302.0l2.5 2.5l-2.5 2.5l-2.5 -2.5zM614.2 306.0l2.5 2.5l-2.5 2.5l-2.5 -2.5zM616.8 313.0l2.5 2.5l-2.5 2.5l-2.5 -2.5zM619.6 306.0l2.5 2.5l-2.5 2.5l-2.5 -2.5zM622.3 299.2l2.5 2.5l-2.5 2.5l-2.5 -2.5zM625.2 304.2l2.5 2.5l-2.5 2.5l-2.5 -2.5zM627.9 301.0l2.5 2.5l-2.5 2.5l-2.5 -2.5zM630.5 298.0l2.5 2.5l-2.5 2.5l-2.5 -2.5zM633.0 279.2l2.5 2.5l-2.5 2.5l-2.5 -2.5zM635.6 267.4l2.5 2.5l-2.5 2.5l-2.5 -2.5zM638.3 289.2l2.5 2.5l-2.5 2.5l-2.5 -2.5zM641.1 275.0l2.5 2.5l-2.5 2.5l-2.5 -2.5zM643.8 278.6l2.5 2.5l-2.5 2.5l-2.5 -2.5zM646.3 258.0l2.5 2.5l-2.5 2.5l-2.5 -2.5zM649.0 247.0l2.5 2.5l-2.5 2.5l-2.5 -2.5zM651.6 205.5l2.5 2.5l-2.5 2.5l-2.5 -2.5zM654.3 218.0l2.5 2.5l-2.5 2.5l-2.5 -2.5zM656.6 257.0l2.5 2.5l-2.5 2.5l-2.5 -2.5zM659.0 246.0l2.5 2.5l-2.5 2.5l-2.5 -2.5zM661.6 240.0l2.5 2.5l-2.5 2.5l-2.5 -2.5zM664.4 256.5l2.5 2.5l-2.5 2.5l-2.5 -2.5zM667.3 240.5l2.5 2.5l-2.5 2.5l-2.5 -2.5zM670.2 248.6l2.5 2.5l-2.5 2.5l-2.5 -2.5zM672.9 261.0l2.5 2.5l-2.5 2.5l-2.5 -2.5zM675.5 236.8l2.5 2.5l-2.5 2.5l-2.5 -2.5zM678.0 248.0l2.5 2.5l-2.5 2.5l-2.5 -2.5zM680.5 255.0l2.5 2.5l-2.5 2.5l-2.5 -2.5zM683.0 273.0l2.5 2.5l-2.5 2.5l-2.5 -2.5zM685.5 260.5l2.5 2.5l-2.5 2.5l-2.5 -2.5zM688.1 268.0l2.5 2.5l-2.5 2.5l-2.5 -2.5zM690.8 250.0l2.5 2.5l-2.5 2.5l-2.5 -2.5zM693.5 252.0l2.5 2.5l-2.5 2.5l-2.5 -2.5zM696.6 254.2l2.5 2.5l-2.5 2.5l-2.5 -2.5zM699.6 245.5l2.5 2.5l-2.5 2.5l-2.5 -2.5zM702.6 224.2l2.5 2.5l-2.5 2.5l-2.5 -2.5zM705.2 233.0l2.5 2.5l-2.5 2.5l-2.5 -2.5zM707.9 220.0l2.5 2.5l-2.5 2.5l-2.5 -2.5zM710.5 200.5l2.5 2.5l-2.5 2.5l-2.5 -2.5zM713.2 226.5l2.5 2.5l-2.5 2.5l-2.5 -2.5zM716.0 210.0l2.5 2.5l-2.5 2.5l-2.5 -2.5zM718.8 265.5l2.5 2.5l-2.5 2.5l-2.5 -2.5zM721.6 243.0l2.5 2.5l-2.5 2.5l-2.5 -2.5zM724.3 223.0l2.5 2.5l-2.5 2.5l-2.5 -2.5zM726.9 253.6l2.5 2.5l-2.5 2.5l-2.5 -2.5zM729.4 236.8l2.5 2.5l-2.5 2.5l-2.5 -2.5zM732.0 251.8l2.5 2.5l-2.5 2.5l-2.5 -2.5zM734.7 258.0l2.5 2.5l-2.5 2.5l-2.5 -2.5zM737.3 245.0l2.5 2.5l-2.5 2.5l-2.5 -2.5zM739.9 236.8l2.5 2.5l-2.5 2.5l-2.5 -2.5zM742.5 246.0l2.5 2.5l-2.5 2.5l-2.5 -2.5zM745.0 223.0l2.5 2.5l-2.5 2.5l-2.5 -2.5zM747.7 200.0l2.5 2.5l-2.5 2.5l-2.5 -2.5zM750.4 225.5l2.5 2.5l-2.5 2.5l-2.5 -2.5zM753.1 246.0l2.5 2.5l-2.5 2.5l-2.5 -2.5zM755.7 235.0l2.5 2.5l-2.5 2.5l-2.5 -2.5zM760.6 228.0l2.5 2.5l-2.5 2.5l-2.5 -2.5z" fill="#18213e" stroke="#18213e" stroke-width="4" stroke-linejoin="round"/></g><g><polyline points="60.2,306.1 62.7,316.5 65.4,323.5 68.3,333.5 71.3,333.5 74.0,200.5 76.7,333.5 79.4,321.1 81.6,320.5 84.3,319.5 87.2,324.2 90.3,330.5 93.0,333.5 95.6,306.1 100.1,323.5 102.8,330.5 105.6,333.5 108.3,322.5 110.9,319.2 113.9,333.5 117.0,313.0 120.0,320.5 122.4,214.9 124.9,154.9 127.6,163.5 130.4,278.5 133.1,269.5 135.5,269.2 138.1,182.8 140.6,190.5 143.1,198.0 145.6,77.0 148.2,76.8 150.6,71.4 152.9,187.8 155.2,175.5 157.8,187.8 160.6,131.1 163.4,134.9 166.1,291.1 169.0,201.1 171.7,291.1 174.3,209.2 177.2,310.5 180.3,231.8 183.9,275.5 186.9,265.5 189.9,291.5 192.3,278.5 194.9,271.5 197.6,288.0 200.4,283.0 203.1,295.5 205.5,308.5 208.0,293.0 210.5,284.2 213.1,265.5 215.7,275.5 219.9,241.5 222.6,258.5 225.4,279.2 228.1,269.2 230.7,216.5 233.3,251.1 238.2,224.9 241.1,228.5 244.0,231.1 246.6,191.1 249.0,198.0 251.7,144.9 254.3,133.0 257.1,159.9 259.8,148.0 262.4,138.0 265.1,172.5 267.8,154.9 270.5,169.2 273.4,180.5 276.4,159.2 279.5,152.5 282.3,184.2 285.2,161.1 287.9,153.0 290.5,171.1 293.3,201.8 295.9,197.5 298.6,195.5 301.1,193.5 303.6,204.9 306.2,229.9 308.8,210.5 311.5,192.5 314.2,198.5 316.9,267.5 319.3,249.2 321.9,249.5 324.6,263.5 327.3,247.0 329.9,234.2 332.2,233.0 334.8,232.0 337.1,243.5 339.6,184.2 342.0,186.5 344.7,189.2 347.4,210.5 350.0,170.5 352.8,161.1 355.4,170.5 358.3,153.5 360.9,166.5 363.6,156.5 366.2,148.5 368.7,138.5 371.4,116.8 374.0,111.8 376.8,130.5 379.4,122.5 382.1,109.9 384.8,116.8 387.3,122.5 389.6,131.1 392.1,140.5 394.6,135.5 397.2,136.5 399.9,138.0 403.1,193.5 406.4,174.2 409.7,181.1 412.3,174.2 414.8,190.5 417.3,205.5 419.8,192.5 422.7,201.1 425.3,213.5 428.0,204.2 430.4,181.1 433.0,190.5 435.5,195.5 438.0,196.5 440.7,197.5 443.4,206.5 446.2,224.2 448.9,217.5 451.6,229.9 454.2,233.5 456.9,239.9 459.5,230.5 462.1,233.0 464.8,239.2 467.5,219.2 470.3,234.2 472.9,238.5 475.5,219.9 478.0,256.1 480.5,236.8 483.0,216.1 485.5,242.5 488.2,238.5 491.6,258.5 495.2,267.5 498.5,185.5 501.4,212.5 504.1,197.5 506.9,199.5 509.4,200.5 511.8,197.5 514.3,178.5 516.8,173.5 519.4,231.1 522.1,211.5 524.6,223.5 527.2,252.5 529.8,294.2 532.5,279.2 535.2,305.5 537.9,294.5 540.5,295.5 543.1,294.2 545.6,269.2 548.2,285.5 550.8,295.5 554.9,298.5 557.9,265.5 560.8,288.0 564.2,273.5 567.1,259.9 570.1,243.5 574.6,268.5 577.3,263.0 580.2,242.5 582.8,264.2 588.0,251.1 590.7,235.5 594.4,243.0 597.1,250.5 599.8,234.2 602.7,125.5 605.3,213.5 608.2,251.1 610.8,245.5 613.5,240.5 616.0,219.2 618.4,226.8 620.8,184.9 623.4,173.5 626.0,173.5 628.7,213.5 631.2,213.5 633.8,202.5 636.4,211.5 638.9,218.5 641.6,264.9 644.6,276.1 647.9,249.2 650.9,268.5 653.9,229.5 656.7,237.5 659.5,248.0 662.1,241.8 664.8,259.2 667.6,270.5 670.3,270.5 674.4,271.1 677.2,223.0 680.0,226.1 682.5,223.0 685.1,236.1 688.0,195.5 690.9,206.8 693.9,240.5 696.7,181.8 699.5,208.5 702.2,209.5 704.8,210.5 707.5,211.8 710.0,216.8 712.7,211.8 715.5,191.5 718.4,248.5 721.0,218.0 723.7,218.5 726.2,209.2 728.7,204.2 731.4,205.5 734.0,203.5 736.6,218.5 739.1,216.8 741.8,194.9 744.6,222.5 747.3,258.5 750.1,179.9 752.6,199.2 755.3,214.2 757.9,219.9 760.6,214.2" fill="none" stroke="#cccccc" stroke-width="1.75" stroke-linejoin="round" stroke-linecap="round"/><path d="M60.2 303.6l2.5 2.5l-2.5 2.5l-2.5 -2.5zM62.7 314.0l2.5 2.5l-2.5 2.5l-2.5 -2.5zM65.4 321.0l2.5 2.5l-2.5 2.5l-2.5 -2.5zM68.3 331.0l2.5 2.5l-2.5 2.5l-2.5 -2.5zM71.3 331.0l2.5 2.5l-2.5 2.5l-2.5 -2.5zM74.0 198.0l2.5 2.5l-2.5 2.5l-2.5 -2.5zM76.7 331.0l2.5 2.5l-2.5 2.5l-2.5 -2.5zM79.4 318.6l2.5 2.5l-2.5 2.5l-2.5 -2.5zM81.6 318.0l2.5 2.5l-2.5 2.5l-2.5 -2.5zM84.3 317.0l2.5 2.5l-2.5 2.5l-2.5 -2.5zM87.2 321.8l2.5 2.5l-2.5 2.5l-2.5 -2.5zM90.3 328.0l2.5 2.5l-2.5 2.5l-2.5 -2.5zM93.0 331.0l2.5 2.5l-2.5 2.5l-2.5 -2.5zM95.6 303.6l2.5 2.5l-2.5 2.5l-2.5 -2.5zM100.1 321.0l2.5 2.5l-2.5 2.5l-2.5 -2.5zM102.8 328.0l2.5 2.5l-2.5 2.5l-2.5 -2.5zM105.6 331.0l2.5 2.5l-2.5 2.5l-2.5 -2.5zM108.3 320.0l2.5 2.5l-2.5 2.5l-2.5 -2.5zM110.9 316.8l2.5 2.5l-2.5 2.5l-2.5 -2.5zM113.9 331.0l2.5 2.5l-2.5 2.5l-2.5 -2.5zM117.0 310.5l2.5 2.5l-2.5 2.5l-2.5 -2.5zM120.0 318.0l2.5 2.5l-2.5 2.5l-2.5 -2.5zM122.4 212.4l2.5 2.5l-2.5 2.5l-2.5 -2.5zM124.9 152.4l2.5 2.5l-2.5 2.5l-2.5 -2.5zM127.6 161.0l2.5 2.5l-2.5 2.5l-2.5 -2.5zM130.4 276.0l2.5 2.5l-2.5 2.5l-2.5 -2.5zM133.1 267.0l2.5 2.5l-2.5 2.5l-2.5 -2.5zM135.5 266.8l2.5 2.5l-2.5 2.5l-2.5 -2.5zM138.1 180.2l2.5 2.5l-2.5 2.5l-2.5 -2.5zM140.6 188.0l2.5 2.5l-2.5 2.5l-2.5 -2.5zM143.1 195.5l2.5 2.5l-2.5 2.5l-2.5 -2.5zM145.6 74.5l2.5 2.5l-2.5 2.5l-2.5 -2.5zM148.2 74.2l2.5 2.5l-2.5 2.5l-2.5 -2.5zM150.6 68.9l2.5 2.5l-2.5 2.5l-2.5 -2.5zM152.9 185.2l2.5 2.5l-2.5 2.5l-2.5 -2.5zM155.2 173.0l2.5 2.5l-2.5 2.5l-2.5 -2.5zM157.8 185.2l2.5 2.5l-2.5 2.5l-2.5 -2.5zM160.6 128.6l2.5 2.5l-2.5 2.5l-2.5 -2.5zM163.4 132.4l2.5 2.5l-2.5 2.5l-2.5 -2.5zM166.1 288.6l2.5 2.5l-2.5 2.5l-2.5 -2.5zM169.0 198.6l2.5 2.5l-2.5 2.5l-2.5 -2.5zM171.7 288.6l2.5 2.5l-2.5 2.5l-2.5 -2.5zM174.3 206.8l2.5 2.5l-2.5 2.5l-2.5 -2.5zM177.2 308.0l2.5 2.5l-2.5 2.5l-2.5 -2.5zM180.3 229.2l2.5 2.5l-2.5 2.5l-2.5 -2.5zM183.9 273.0l2.5 2.5l-2.5 2.5l-2.5 -2.5zM186.9 263.0l2.5 2.5l-2.5 2.5l-2.5 -2.5zM189.9 289.0l2.5 2.5l-2.5 2.5l-2.5 -2.5zM192.3 276.0l2.5 2.5l-2.5 2.5l-2.5 -2.5zM194.9 269.0l2.5 2.5l-2.5 2.5l-2.5 -2.5zM197.6 285.5l2.5 2.5l-2.5 2.5l-2.5 -2.5zM200.4 280.5l2.5 2.5l-2.5 2.5l-2.5 -2.5zM203.1 293.0l2.5 2.5l-2.5 2.5l-2.5 -2.5zM205.5 306.0l2.5 2.5l-2.5 2.5l-2.5 -2.5zM208.0 290.5l2.5 2.5l-2.5 2.5l-2.5 -2.5zM210.5 281.8l2.5 2.5l-2.5 2.5l-2.5 -2.5zM213.1 263.0l2.5 2.5l-2.5 2.5l-2.5 -2.5zM215.7 273.0l2.5 2.5l-2.5 2.5l-2.5 -2.5zM219.9 239.0l2.5 2.5l-2.5 2.5l-2.5 -2.5zM222.6 256.0l2.5 2.5l-2.5 2.5l-2.5 -2.5zM225.4 276.8l2.5 2.5l-2.5 2.5l-2.5 -2.5zM228.1 266.8l2.5 2.5l-2.5 2.5l-2.5 -2.5zM230.7 214.0l2.5 2.5l-2.5 2.5l-2.5 -2.5zM233.3 248.6l2.5 2.5l-2.5 2.5l-2.5 -2.5zM238.2 222.4l2.5 2.5l-2.5 2.5l-2.5 -2.5zM241.1 226.0l2.5 2.5l-2.5 2.5l-2.5 -2.5zM244.0 228.6l2.5 2.5l-2.5 2.5l-2.5 -2.5zM246.6 188.6l2.5 2.5l-2.5 2.5l-2.5 -2.5zM249.0 195.5l2.5 2.5l-2.5 2.5l-2.5 -2.5zM251.7 142.4l2.5 2.5l-2.5 2.5l-2.5 -2.5zM254.3 130.5l2.5 2.5l-2.5 2.5l-2.5 -2.5zM257.1 157.4l2.5 2.5l-2.5 2.5l-2.5 -2.5zM259.8 145.5l2.5 2.5l-2.5 2.5l-2.5 -2.5zM262.4 135.5l2.5 2.5l-2.5 2.5l-2.5 -2.5zM265.1 170.0l2.5 2.5l-2.5 2.5l-2.5 -2.5zM267.8 152.4l2.5 2.5l-2.5 2.5l-2.5 -2.5zM270.5 166.8l2.5 2.5l-2.5 2.5l-2.5 -2.5zM273.4 178.0l2.5 2.5l-2.5 2.5l-2.5 -2.5zM276.4 156.8l2.5 2.5l-2.5 2.5l-2.5 -2.5zM279.5 150.0l2.5 2.5l-2.5 2.5l-2.5 -2.5zM282.3 181.8l2.5 2.5l-2.5 2.5l-2.5 -2.5zM285.2 158.6l2.5 2.5l-2.5 2.5l-2.5 -2.5zM287.9 150.5l2.5 2.5l-2.5 2.5l-2.5 -2.5zM290.5 168.6l2.5 2.5l-2.5 2.5l-2.5 -2.5zM293.3 199.2l2.5 2.5l-2.5 2.5l-2.5 -2.5zM295.9 195.0l2.5 2.5l-2.5 2.5l-2.5 -2.5zM298.6 193.0l2.5 2.5l-2.5 2.5l-2.5 -2.5zM301.1 191.0l2.5 2.5l-2.5 2.5l-2.5 -2.5zM303.6 202.4l2.5 2.5l-2.5 2.5l-2.5 -2.5zM306.2 227.4l2.5 2.5l-2.5 2.5l-2.5 -2.5zM308.8 208.0l2.5 2.5l-2.5 2.5l-2.5 -2.5zM311.5 190.0l2.5 2.5l-2.5 2.5l-2.5 -2.5zM314.2 196.0l2.5 2.5l-2.5 2.5l-2.5 -2.5zM316.9 265.0l2.5 2.5l-2.5 2.5l-2.5 -2.5zM319.3 246.8l2.5 2.5l-2.5 2.5l-2.5 -2.5zM321.9 247.0l2.5 2.5l-2.5 2.5l-2.5 -2.5zM324.6 261.0l2.5 2.5l-2.5 2.5l-2.5 -2.5zM327.3 244.5l2.5 2.5l-2.5 2.5l-2.5 -2.5zM329.9 231.8l2.5 2.5l-2.5 2.5l-2.5 -2.5zM332.2 230.5l2.5 2.5l-2.5 2.5l-2.5 -2.5zM334.8 229.5l2.5 2.5l-2.5 2.5l-2.5 -2.5zM337.1 241.0l2.5 2.5l-2.5 2.5l-2.5 -2.5zM339.6 181.8l2.5 2.5l-2.5 2.5l-2.5 -2.5zM342.0 184.0l2.5 2.5l-2.5 2.5l-2.5 -2.5zM344.7 186.8l2.5 2.5l-2.5 2.5l-2.5 -2.5zM347.4 208.0l2.5 2.5l-2.5 2.5l-2.5 -2.5zM350.0 168.0l2.5 2.5l-2.5 2.5l-2.5 -2.5zM352.8 158.6l2.5 2.5l-2.5 2.5l-2.5 -2.5zM355.4 168.0l2.5 2.5l-2.5 2.5l-2.5 -2.5zM358.3 151.0l2.5 2.5l-2.5 2.5l-2.5 -2.5zM360.9 164.0l2.5 2.5l-2.5 2.5l-2.5 -2.5zM363.6 154.0l2.5 2.5l-2.5 2.5l-2.5 -2.5zM366.2 146.0l2.5 2.5l-2.5 2.5l-2.5 -2.5zM368.7 136.0l2.5 2.5l-2.5 2.5l-2.5 -2.5zM371.4 114.2l2.5 2.5l-2.5 2.5l-2.5 -2.5zM374.0 109.2l2.5 2.5l-2.5 2.5l-2.5 -2.5zM376.8 128.0l2.5 2.5l-2.5 2.5l-2.5 -2.5zM379.4 120.0l2.5 2.5l-2.5 2.5l-2.5 -2.5zM382.1 107.4l2.5 2.5l-2.5 2.5l-2.5 -2.5zM384.8 114.2l2.5 2.5l-2.5 2.5l-2.5 -2.5zM387.3 120.0l2.5 2.5l-2.5 2.5l-2.5 -2.5zM389.6 128.6l2.5 2.5l-2.5 2.5l-2.5 -2.5zM392.1 138.0l2.5 2.5l-2.5 2.5l-2.5 -2.5zM394.6 133.0l2.5 2.5l-2.5 2.5l-2.5 -2.5zM397.2 134.0l2.5 2.5l-2.5 2.5l-2.5 -2.5zM399.9 135.5l2.5 2.5l-2.5 2.5l-2.5 -2.5zM403.1 191.0l2.5 2.5l-2.5 2.5l-2.5 -2.5zM406.4 171.8l2.5 2.5l-2.5 2.5l-2.5 -2.5zM409.7 178.6l2.5 2.5l-2.5 2.5l-2.5 -2.5zM412.3 171.8l2.5 2.5l-2.5 2.5l-2.5 -2.5zM414.8 188.0l2.5 2.5l-2.5 2.5l-2.5 -2.5zM417.3 203.0l2.5 2.5l-2.5 2.5l-2.5 -2.5zM419.8 190.0l2.5 2.5l-2.5 2.5l-2.5 -2.5zM422.7 198.6l2.5 2.5l-2.5 2.5l-2.5 -2.5zM425.3 211.0l2.5 2.5l-2.5 2.5l-2.5 -2.5zM428.0 201.8l2.5 2.5l-2.5 2.5l-2.5 -2.5zM430.4 178.6l2.5 2.5l-2.5 2.5l-2.5 -2.5zM433.0 188.0l2.5 2.5l-2.5 2.5l-2.5 -2.5zM435.5 193.0l2.5 2.5l-2.5 2.5l-2.5 -2.5zM438.0 194.0l2.5 2.5l-2.5 2.5l-2.5 -2.5zM440.7 195.0l2.5 2.5l-2.5 2.5l-2.5 -2.5zM443.4 204.0l2.5 2.5l-2.5 2.5l-2.5 -2.5zM446.2 221.8l2.5 2.5l-2.5 2.5l-2.5 -2.5zM448.9 215.0l2.5 2.5l-2.5 2.5l-2.5 -2.5zM451.6 227.4l2.5 2.5l-2.5 2.5l-2.5 -2.5zM454.2 231.0l2.5 2.5l-2.5 2.5l-2.5 -2.5zM456.9 237.4l2.5 2.5l-2.5 2.5l-2.5 -2.5zM459.5 228.0l2.5 2.5l-2.5 2.5l-2.5 -2.5zM462.1 230.5l2.5 2.5l-2.5 2.5l-2.5 -2.5zM464.8 236.8l2.5 2.5l-2.5 2.5l-2.5 -2.5zM467.5 216.8l2.5 2.5l-2.5 2.5l-2.5 -2.5zM470.3 231.8l2.5 2.5l-2.5 2.5l-2.5 -2.5zM472.9 236.0l2.5 2.5l-2.5 2.5l-2.5 -2.5zM475.5 217.4l2.5 2.5l-2.5 2.5l-2.5 -2.5zM478.0 253.6l2.5 2.5l-2.5 2.5l-2.5 -2.5zM480.5 234.2l2.5 2.5l-2.5 2.5l-2.5 -2.5zM483.0 213.6l2.5 2.5l-2.5 2.5l-2.5 -2.5zM485.5 240.0l2.5 2.5l-2.5 2.5l-2.5 -2.5zM488.2 236.0l2.5 2.5l-2.5 2.5l-2.5 -2.5zM491.6 256.0l2.5 2.5l-2.5 2.5l-2.5 -2.5zM495.2 265.0l2.5 2.5l-2.5 2.5l-2.5 -2.5zM498.5 183.0l2.5 2.5l-2.5 2.5l-2.5 -2.5zM501.4 210.0l2.5 2.5l-2.5 2.5l-2.5 -2.5zM504.1 195.0l2.5 2.5l-2.5 2.5l-2.5 -2.5zM506.9 197.0l2.5 2.5l-2.5 2.5l-2.5 -2.5zM509.4 198.0l2.5 2.5l-2.5 2.5l-2.5 -2.5zM511.8 195.0l2.5 2.5l-2.5 2.5l-2.5 -2.5zM514.3 176.0l2.5 2.5l-2.5 2.5l-2.5 -2.5zM516.8 171.0l2.5 2.5l-2.5 2.5l-2.5 -2.5zM519.4 228.6l2.5 2.5l-2.5 2.5l-2.5 -2.5zM522.1 209.0l2.5 2.5l-2.5 2.5l-2.5 -2.5zM524.6 221.0l2.5 2.5l-2.5 2.5l-2.5 -2.5zM527.2 250.0l2.5 2.5l-2.5 2.5l-2.5 -2.5zM529.8 291.8l2.5 2.5l-2.5 2.5l-2.5 -2.5zM532.5 276.8l2.5 2.5l-2.5 2.5l-2.5 -2.5zM535.2 303.0l2.5 2.5l-2.5 2.5l-2.5 -2.5zM537.9 292.0l2.5 2.5l-2.5 2.5l-2.5 -2.5zM540.5 293.0l2.5 2.5l-2.5 2.5l-2.5 -2.5zM543.1 291.8l2.5 2.5l-2.5 2.5l-2.5 -2.5zM545.6 266.8l2.5 2.5l-2.5 2.5l-2.5 -2.5zM548.2 283.0l2.5 2.5l-2.5 2.5l-2.5 -2.5zM550.8 293.0l2.5 2.5l-2.5 2.5l-2.5 -2.5zM554.9 296.0l2.5 2.5l-2.5 2.5l-2.5 -2.5zM557.9 263.0l2.5 2.5l-2.5 2.5l-2.5 -2.5zM560.8 285.5l2.5 2.5l-2.5 2.5l-2.5 -2.5zM564.2 271.0l2.5 2.5l-2.5 2.5l-2.5 -2.5zM567.1 257.4l2.5 2.5l-2.5 2.5l-2.5 -2.5zM570.1 241.0l2.5 2.5l-2.5 2.5l-2.5 -2.5zM574.6 266.0l2.5 2.5l-2.5 2.5l-2.5 -2.5zM577.3 260.5l2.5 2.5l-2.5 2.5l-2.5 -2.5zM580.2 240.0l2.5 2.5l-2.5 2.5l-2.5 -2.5zM582.8 261.8l2.5 2.5l-2.5 2.5l-2.5 -2.5zM588.0 248.6l2.5 2.5l-2.5 2.5l-2.5 -2.5zM590.7 233.0l2.5 2.5l-2.5 2.5l-2.5 -2.5zM594.4 240.5l2.5 2.5l-2.5 2.5l-2.5 -2.5zM597.1 248.0l2.5 2.5l-2.5 2.5l-2.5 -2.5zM599.8 231.8l2.5 2.5l-2.5 2.5l-2.5 -2.5zM602.7 123.0l2.5 2.5l-2.5 2.5l-2.5 -2.5zM605.3 211.0l2.5 2.5l-2.5 2.5l-2.5 -2.5zM608.2 248.6l2.5 2.5l-2.5 2.5l-2.5 -2.5zM610.8 243.0l2.5 2.5l-2.5 2.5l-2.5 -2.5zM613.5 238.0l2.5 2.5l-2.5 2.5l-2.5 -2.5zM616.0 216.8l2.5 2.5l-2.5 2.5l-2.5 -2.5zM618.4 224.2l2.5 2.5l-2.5 2.5l-2.5 -2.5zM620.8 182.4l2.5 2.5l-2.5 2.5l-2.5 -2.5zM623.4 171.0l2.5 2.5l-2.5 2.5l-2.5 -2.5zM626.0 171.0l2.5 2.5l-2.5 2.5l-2.5 -2.5zM628.7 211.0l2.5 2.5l-2.5 2.5l-2.5 -2.5zM631.2 211.0l2.5 2.5l-2.5 2.5l-2.5 -2.5zM633.8 200.0l2.5 2.5l-2.5 2.5l-2.5 -2.5zM636.4 209.0l2.5 2.5l-2.5 2.5l-2.5 -2.5zM638.9 216.0l2.5 2.5l-2.5 2.5l-2.5 -2.5zM641.6 262.4l2.5 2.5l-2.5 2.5l-2.5 -2.5zM644.6 273.6l2.5 2.5l-2.5 2.5l-2.5 -2.5zM647.9 246.8l2.5 2.5l-2.5 2.5l-2.5 -2.5zM650.9 266.0l2.5 2.5l-2.5 2.5l-2.5 -2.5zM653.9 227.0l2.5 2.5l-2.5 2.5l-2.5 -2.5zM656.7 235.0l2.5 2.5l-2.5 2.5l-2.5 -2.5zM659.5 245.5l2.5 2.5l-2.5 2.5l-2.5 -2.5zM662.1 239.2l2.5 2.5l-2.5 2.5l-2.5 -2.5zM664.8 256.8l2.5 2.5l-2.5 2.5l-2.5 -2.5zM667.6 268.0l2.5 2.5l-2.5 2.5l-2.5 -2.5zM670.3 268.0l2.5 2.5l-2.5 2.5l-2.5 -2.5zM674.4 268.6l2.5 2.5l-2.5 2.5l-2.5 -2.5zM677.2 220.5l2.5 2.5l-2.5 2.5l-2.5 -2.5zM680.0 223.6l2.5 2.5l-2.5 2.5l-2.5 -2.5zM682.5 220.5l2.5 2.5l-2.5 2.5l-2.5 -2.5zM685.1 233.6l2.5 2.5l-2.5 2.5l-2.5 -2.5zM688.0 193.0l2.5 2.5l-2.5 2.5l-2.5 -2.5zM690.9 204.2l2.5 2.5l-2.5 2.5l-2.5 -2.5zM693.9 238.0l2.5 2.5l-2.5 2.5l-2.5 -2.5zM696.7 179.2l2.5 2.5l-2.5 2.5l-2.5 -2.5zM699.5 206.0l2.5 2.5l-2.5 2.5l-2.5 -2.5zM702.2 207.0l2.5 2.5l-2.5 2.5l-2.5 -2.5zM704.8 208.0l2.5 2.5l-2.5 2.5l-2.5 -2.5zM707.5 209.2l2.5 2.5l-2.5 2.5l-2.5 -2.5zM710.0 214.2l2.5 2.5l-2.5 2.5l-2.5 -2.5zM712.7 209.2l2.5 2.5l-2.5 2.5l-2.5 -2.5zM715.5 189.0l2.5 2.5l-2.5 2.5l-2.5 -2.5zM718.4 246.0l2.5 2.5l-2.5 2.5l-2.5 -2.5zM721.0 215.5l2.5 2.5l-2.5 2.5l-2.5 -2.5zM723.7 216.0l2.5 2.5l-2.5 2.5l-2.5 -2.5zM726.2 206.8l2.5 2.5l-2.5 2.5l-2.5 -2.5zM728.7 201.8l2.5 2.5l-2.5 2.5l-2.5 -2.5zM731.4 203.0l2.5 2.5l-2.5 2.5l-2.5 -2.5zM734.0 201.0l2.5 2.5l-2.5 2.5l-2.5 -2.5zM736.6 216.0l2.5 2.5l-2.5 2.5l-2.5 -2.5zM739.1 214.2l2.5 2.5l-2.5 2.5l-2.5 -2.5zM741.8 192.4l2.5 2.5l-2.5 2.5l-2.5 -2.5zM744.6 220.0l2.5 2.5l-2.5 2.5l-2.5 -2.5zM747.3 256.0l2.5 2.5l-2.5 2.5l-2.5 -2.5zM750.1 177.4l2.5 2.5l-2.5 2.5l-2.5 -2.5zM752.6 196.8l2.5 2.5l-2.5 2.5l-2.5 -2.5zM755.3 211.8l2.5 2.5l-2.5 2.5l-2.5 -2.5zM757.9 217.4l2.5 2.5l-2.5 2.5l-2.5 -2.5zM760.6 211.8l2.5 2.5l-2.5 2.5l-2.5 -2.5z" fill="#cccccc" stroke="#cccccc" stroke-width="4" stroke-linejoin="round"/></g></svg></body></html>
